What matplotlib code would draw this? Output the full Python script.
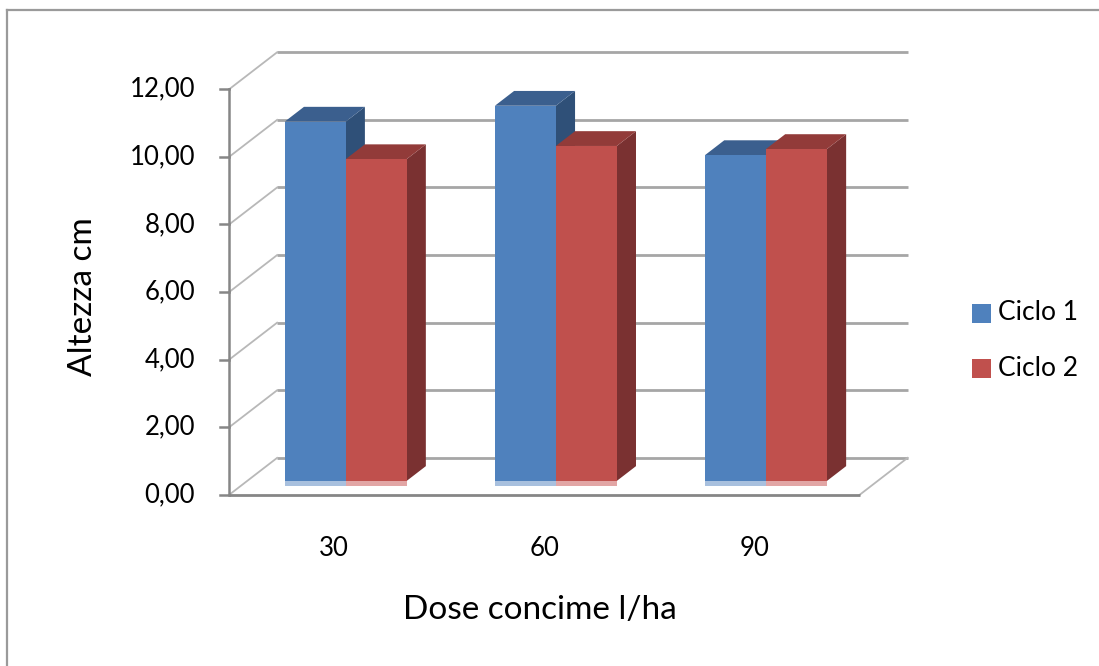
import matplotlib
matplotlib.use("Agg")
import matplotlib.pyplot as plt
from matplotlib.patches import Polygon, Rectangle
from matplotlib.lines import Line2D
import numpy as np

# ---------------- data ----------------
categories = ["30", "60", "90"]
series_names = ["Ciclo 1", "Ciclo 2"]
ciclo1 = [10.78, 11.25, 9.79]
ciclo2 = [9.67, 10.06, 9.97]
yticks = [0, 2, 4, 6, 8, 10, 12]
ytick_labels = ["0,00", "2,00", "4,00", "6,00", "8,00", "10,00", "12,00"]
x_title = "Dose concime l/ha"
y_title = "Altezza cm"

# ---------------- style ----------------
plt.rcParams['font.family'] = ['Lato', 'DejaVu Sans']
W, H = 1099, 666
PX_X, PX_Y = 210.15, 33.8        # pixels per data unit
ORIG_X, ORIG_Y = 345.7, 486.0    # pixel position of data (0, 0)

front_cols = ["#4F81BD", "#C0504D"]
top_cols = ["#3B5F8E", "#923B39"]
side_cols = ["#2F5078", "#7A3131"]
base_cols = ["#A8C0DE", "#E2A6A5"]

fig = plt.figure(figsize=(W / 100, H / 100), dpi=100)
ax = fig.add_axes([0, 0, 1, 1])
ax.set_xlim(-ORIG_X / PX_X, (W - ORIG_X) / PX_X)
ax.set_ylim((ORIG_Y - H) / PX_Y, ORIG_Y / PX_Y)
ax.axis('off')

SPAN = np.array([48 / PX_X, 37 / PX_Y])   # full depth of floor
FRONT = -0.24 * SPAN
BACK = 0.76 * SPAN
BAR_D = 0.40 * SPAN
X0, X1 = -0.5, len(categories) - 0.5
grid_c = "#A6A6A6"
axis_c = "#868686"

# back wall gridlines
for v in yticks:
    ax.plot([X0 + BACK[0], X1 + BACK[0]], [v + BACK[1]] * 2, color=grid_c,
            lw=2.0, solid_capstyle='butt', zorder=1)
    # side wall diagonals
    ax.plot([X0 + FRONT[0], X0 + BACK[0]], [v + FRONT[1], v + BACK[1]],
            color="#B8B8B8", lw=1.3, zorder=1)
# floor right diagonal
ax.plot([X1 + FRONT[0], X1 + BACK[0]], [FRONT[1], BACK[1]], color="#B8B8B8",
        lw=1.3, zorder=1)
# floor front line
ax.plot([X0 + FRONT[0], X1 + FRONT[0]], [FRONT[1]] * 2, color=axis_c,
        lw=2.0, solid_capstyle='butt', zorder=1)
# front vertical axis + ticks + labels
ax.plot([X0 + FRONT[0]] * 2, [yticks[0] + FRONT[1], yticks[-1] + FRONT[1]],
        color=axis_c, lw=1.8, zorder=1)
tick_len = 9 / PX_X
for v, lab in zip(yticks, ytick_labels):
    ax.plot([X0 + FRONT[0] - tick_len, X0 + FRONT[0]], [v + FRONT[1]] * 2,
            color=axis_c, lw=1.8, zorder=1)
    ax.text(X0 + FRONT[0] - 34 / PX_X, v + FRONT[1], lab, ha='right',
            va='center', fontsize=18.5, color='black')

# bars
bw = 0.29
series = [ciclo1, ciclo2]
for i, cat in enumerate(categories):
    for j, vals in enumerate(series):
        v = vals[i]
        x0 = i - bw if j == 0 else i
        x1 = x0 + bw
        z = 5 + i * 10 + j * 3
        ax.add_patch(Polygon([(x1, 0.15), (x1, v), (x1 + BAR_D[0], v + BAR_D[1]),
                              (x1 + BAR_D[0], 0.15 + BAR_D[1])], closed=True,
                             facecolor=side_cols[j], edgecolor='none', zorder=z))
        ax.add_patch(Polygon([(x0, v), (x1, v), (x1 + BAR_D[0], v + BAR_D[1]),
                              (x0 + BAR_D[0], v + BAR_D[1])], closed=True,
                             facecolor=top_cols[j], edgecolor='none', zorder=z))
        ax.bar(x0, v, width=bw, align='edge', color=front_cols[j],
               edgecolor='none', zorder=z + 1)
        ax.bar(x0, 0.15, width=bw, align='edge', color=base_cols[j],
               edgecolor='none', zorder=z + 2)
    ax.text(i + FRONT[0], (ORIG_Y - 548) / PX_Y, cat, ha='center', va='center',
            fontsize=18.5)

# axis titles
fig.text(540 / W, 1 - 610 / H, x_title, ha='center', va='center', fontsize=24)
fig.text(83 / W, 1 - 297 / H, y_title, ha='center', va='center', fontsize=24,
         rotation=90)

# legend
for j, name in enumerate(series_names):
    cy = 313 + j * 55
    fig.patches.append(Rectangle((972 / W, 1 - (cy + 9.5) / H), 19 / W, 19 / H,
                                 transform=fig.transFigure,
                                 facecolor=front_cols[j], edgecolor='none'))
    fig.text(998 / W, 1 - cy / H, name, ha='left', va='center', fontsize=19)

# chart area border (top and left visible)
fig.add_artist(Line2D([7 / W, 1], [1 - 10 / H] * 2, color="#9A9A9A", lw=1.6,
                      transform=fig.transFigure))
fig.add_artist(Line2D([7 / W] * 2, [0, 1 - 10 / H], color="#9A9A9A", lw=1.6,
                      transform=fig.transFigure))

fig.savefig("out.png", dpi=100, facecolor='white')
